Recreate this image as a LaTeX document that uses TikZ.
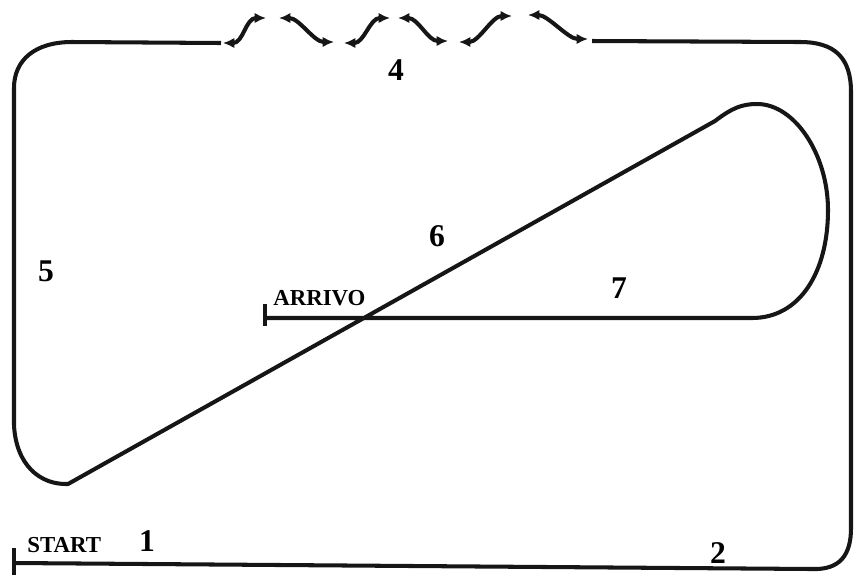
\documentclass[tikz,border=0pt]{standalone}
\usepackage{fontspec}
\setmainfont{Liberation Serif}
\usetikzlibrary{arrows.meta}
\definecolor{track-ink}{RGB}{22,22,22}

\begin{document}
\begin{tikzpicture}[x=0.02cm,y=-0.02cm,
    track/.style={line width=2.3pt, track-ink, line join=round},
    wave/.style={track, {Latex[length=6.5pt,width=6pt]}-{Latex[length=6.5pt,width=6pt]}},
    num/.style={font=\fontsize{18}{20}\selectfont\bfseries, inner sep=0pt},
    tag/.style={font=\fontsize{13}{14}\selectfont\bfseries, inner sep=0pt, anchor=base west}]
    \useasboundingbox (0,0) rectangle (855,576);

    \coordinate (start) at (14,563);
    \coordinate (arrivo) at (265,318);
    \coordinate (wave-in) at (221,43);
    \coordinate (wave-out) at (592,41);

    % outer track, right half
    \draw[track] (wave-out) -- (800,42) .. controls (835,42) and (851,58) .. (851,92)
        -- (851,528) .. controls (851,555) and (840,570) .. (812,569) -- (start);
    % outer track, left half, diagonal and loop
    \draw[track] (wave-in) -- (72,42) .. controls (35,42) and (14,60) .. (14,88)
        -- (14,425) .. controls (16,465) and (40,485) .. (68,484)
        -- (715,121) .. controls (732,108) and (742,104) .. (757,104)
        .. controls (795,104) and (828,155) .. (828,210)
        .. controls (828,272) and (800,318) .. (752,318) -- (arrivo);

    \draw[track] (14,548) -- (14,575);
    \draw[track] (265,304) -- (265,326);

    % bumpy stretch
    \foreach \ax/\ay/\bx/\by in {223/43/266/18, 279/18/334/42, 344/43/390/18,
                                 398/18/448/41, 459/42/512/16, 528/15/588/39}{
        \draw[wave] (\ax,\ay) .. controls +(20,0) and +(-20,0) .. (\bx,\by);
    }

    \node[tag] (lbl-start) at (27,552) {START};
    \node[tag] (lbl-arrivo) at (273,305) {ARRIVO};

    \node[num] (n1) at (147,541) {1};
    \node[num] (n2) at (718,553) {2};
    \node[num] (n4) at (396,70) {4};
    \node[num] (n5) at (46,271) {5};
    \node[num] (n6) at (437,236) {6};
    \node[num] (n7) at (619,288) {7};
\end{tikzpicture}
\end{document}
